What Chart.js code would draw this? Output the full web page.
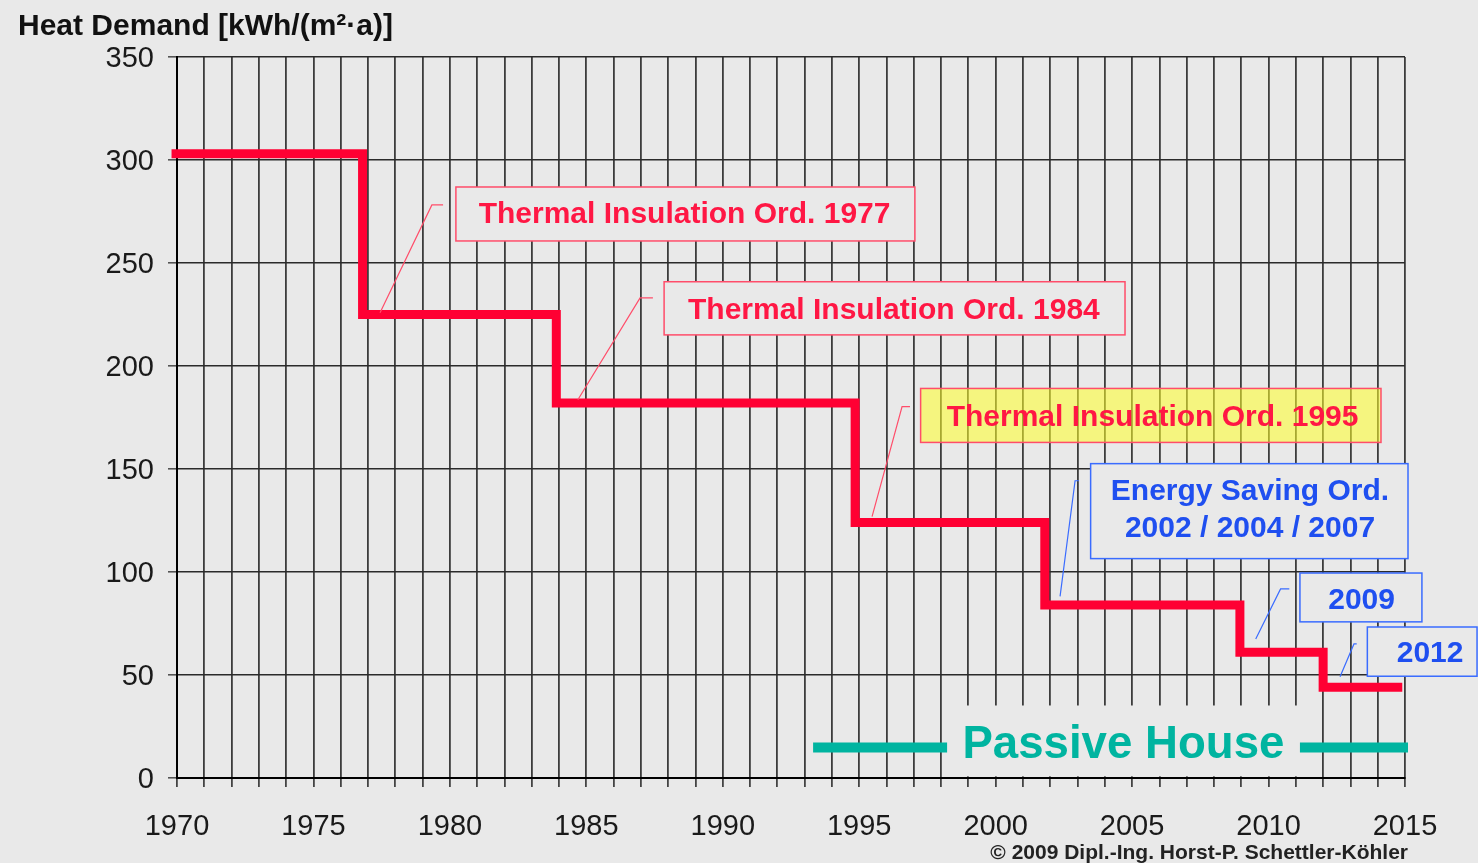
<!DOCTYPE html>
<html>
<head>
<meta charset="utf-8">
<style>
  html, body { margin: 0; padding: 0; background: #e9e9e9; }
  canvas { display: block; }
</style>
</head>
<body>
<canvas id="chart" width="1478" height="863"></canvas>
<script src="https://cdn.jsdelivr.net/npm/chart.js"></script>
<script>
// year in which each requirement starts, and the heat demand from then on
const stepYears  = [1969.8, 1976.8, 1983.9, 1994.85, 2001.8, 2008.95, 2012.0, 2014.9];
const stepValues = [303, 225, 182, 124, 84, 61, 44, 44];

const yearMin = 1970, yearMax = 2015;
const labelEvery = 5;
const demandMax = 350, demandStep = 50;

const yTitle = 'Heat Demand [kWh/(m\u00b2\u00b7a)]';
const credit = '\u00a9 2009 Dipl.-Ing. Horst-P. Schettler-K\u00f6hler';

// callouts, placed in data units (year, kWh)
const red = '#ff1744', blue = '#1f4ff0';
const notes = [
  { lines: ['Thermal Insulation Ord. 1977'], color: red, border: '#ff4d6a', fill: '#e9e9e9',
    box: [1980.22, 286.9, 1997.04, 260.7], at: [1988.60, [269.3]],
    leader: [[1977.44, 225.8], [1979.34, 278.2], [1979.75, 278.2]] },
  { lines: ['Thermal Insulation Ord. 1984'], color: red, border: '#ff4d6a', fill: '#e9e9e9',
    box: [1987.85, 240.9, 2004.74, 215.1], at: [1996.27, [223.0]],
    leader: [[1984.69, 183.6], [1986.97, 233.1], [1987.44, 233.1]] },
  { lines: ['Thermal Insulation Ord. 1995'], color: red, border: '#ff4d6a', fill: 'rgba(255,255,40,0.55)',
    box: [1997.25, 189.1, 2014.12, 162.9], at: [2005.75, [171.1]],
    leader: [[1995.47, 126.9], [1996.57, 180.3], [1996.86, 180.3]] },
  { lines: ['Energy Saving Ord.', '2002 / 2004 / 2007'], color: blue, border: '#3a6cff', fill: '#e9e9e9',
    box: [2003.48, 152.6, 2015.11, 106.5], at: [2009.32, [134.9, 117.0]],
    leader: [[2002.36, 88.2], [2002.91, 144.3], [2003.05, 144.3]] },
  { lines: ['2009'], color: blue, border: '#3a6cff', fill: '#e9e9e9',
    box: [2011.15, 99.5, 2015.62, 75.8], at: [2013.41, [82.1]],
    leader: [[2009.53, 67.5], [2010.44, 91.8], [2010.76, 91.8]] },
  { lines: ['2012'], color: blue, border: '#3a6cff', fill: '#e9e9e9',
    box: [2013.62, 73.3, 2017.64, 49.4], at: [2015.92, [56.4]],
    leader: [[2012.62, 49.1], [2013.13, 65.1], [2013.23, 65.1]] }
];
const passive = { text: 'Passive House', color: '#00b4a0', at: [2004.68, 9.9], lineY: 14.8,
  left: [1993.31, 1998.22], right: [2011.15, 2015.11], gap: [1998.22, 2011.15, 35.2, 0.8] };

const FONT = '"Liberation Sans", Arial, sans-serif';

const notesPlugin = {
  id: 'notes',
  afterDatasetsDraw(chart) {
    const ctx = chart.ctx;
    const px = v => chart.scales.x.getPixelForValue(v);
    const py = v => chart.scales.y.getPixelForValue(v);
    ctx.save();

    // passive house band: clear the grid between the two bars
    const g = passive.gap;
    ctx.fillStyle = '#e9e9e9';
    ctx.fillRect(px(g[0]), py(g[2]), px(g[1]) - px(g[0]), py(g[3]) - py(g[2]));
    ctx.strokeStyle = passive.color;
    ctx.lineWidth = 10;
    ctx.beginPath();
    ctx.moveTo(px(passive.left[0]), py(passive.lineY));
    ctx.lineTo(px(passive.left[1]), py(passive.lineY));
    ctx.moveTo(px(passive.right[0]), py(passive.lineY));
    ctx.lineTo(px(passive.right[1]), py(passive.lineY));
    ctx.stroke();
    ctx.fillStyle = passive.color;
    ctx.font = 'bold 46px ' + FONT;
    ctx.textAlign = 'center';
    ctx.textBaseline = 'alphabetic';
    ctx.fillText(passive.text, px(passive.at[0]), py(passive.at[1]), 322);

    for (const n of notes) {
      const [x0, y0, x1, y1] = n.box;
      const l = px(x0), t = py(y0), w = px(x1) - l, h = py(y1) - t;
      ctx.fillStyle = n.fill;
      ctx.fillRect(l, t, w, h);
      ctx.strokeStyle = n.border;
      ctx.lineWidth = 1.5;
      ctx.strokeRect(l, t, w, h);

      ctx.lineWidth = 1.2;
      ctx.beginPath();
      n.leader.forEach((p, i) => i ? ctx.lineTo(px(p[0]), py(p[1])) : ctx.moveTo(px(p[0]), py(p[1])));
      ctx.stroke();

      ctx.fillStyle = n.color;
      ctx.font = 'bold 30px ' + FONT;
      ctx.textAlign = 'center';
      n.lines.forEach((s, i) => ctx.fillText(s, px(n.at[0]), py(n.at[1][i])));
    }
    ctx.restore();
  },
  afterDraw(chart) {
    const ctx = chart.ctx;
    ctx.save();
    ctx.fillStyle = '#111';
    ctx.font = 'bold 30px ' + FONT;
    ctx.textAlign = 'left';
    ctx.textBaseline = 'alphabetic';
    ctx.fillText(yTitle, 18, 35, 378);
    ctx.fillStyle = '#222';
    ctx.font = 'bold 21px ' + FONT;
    ctx.textAlign = 'right';
    ctx.fillText(credit, 1408, 859, 420);
    ctx.restore();
  }
};

new Chart(document.getElementById('chart'), {
  type: 'line',
  data: {
    datasets: [{
      data: stepYears.map((yr, i) => ({ x: yr, y: stepValues[i] })),
      stepped: 'before',
      borderColor: '#ff0033',
      borderWidth: 9,
      borderJoinStyle: 'miter',
      borderCapStyle: 'butt',
      pointRadius: 0,
      fill: false,
      clip: false
    }]
  },
  options: {
    responsive: false,
    animation: false,
    devicePixelRatio: 1,
    layout: { padding: { top: 57, right: 73, left: 0, bottom: 0 } },
    plugins: { legend: { display: false }, tooltip: { enabled: false } },
    scales: {
      x: {
        type: 'linear',
        min: yearMin,
        max: yearMax,
        afterFit: s => { s.height = 85; },
        grid: { color: '#3c3c3c', lineWidth: 1.8, tickLength: 9, tickColor: '#444' },
        border: { color: '#000', width: 2 },
        ticks: {
          stepSize: 1,
          autoSkip: false,
          maxRotation: 0,
          padding: 23,
          color: '#1a1a1a',
          font: { family: FONT, size: 29 },
          callback: v => (v % labelEvery === 0 ? String(v) : '')
        }
      },
      y: {
        min: 0,
        max: demandMax,
        afterFit: s => { s.width = 177; },
        grid: { color: '#2a2a2a', lineWidth: 1.6, tickLength: 9, tickColor: '#555' },
        border: { color: '#000', width: 2 },
        ticks: {
          stepSize: demandStep,
          padding: 14,
          labelOffset: 2,
          color: '#1a1a1a',
          font: { family: FONT, size: 29 }
        }
      }
    }
  },
  plugins: [notesPlugin]
});
</script>
</body>
</html>
